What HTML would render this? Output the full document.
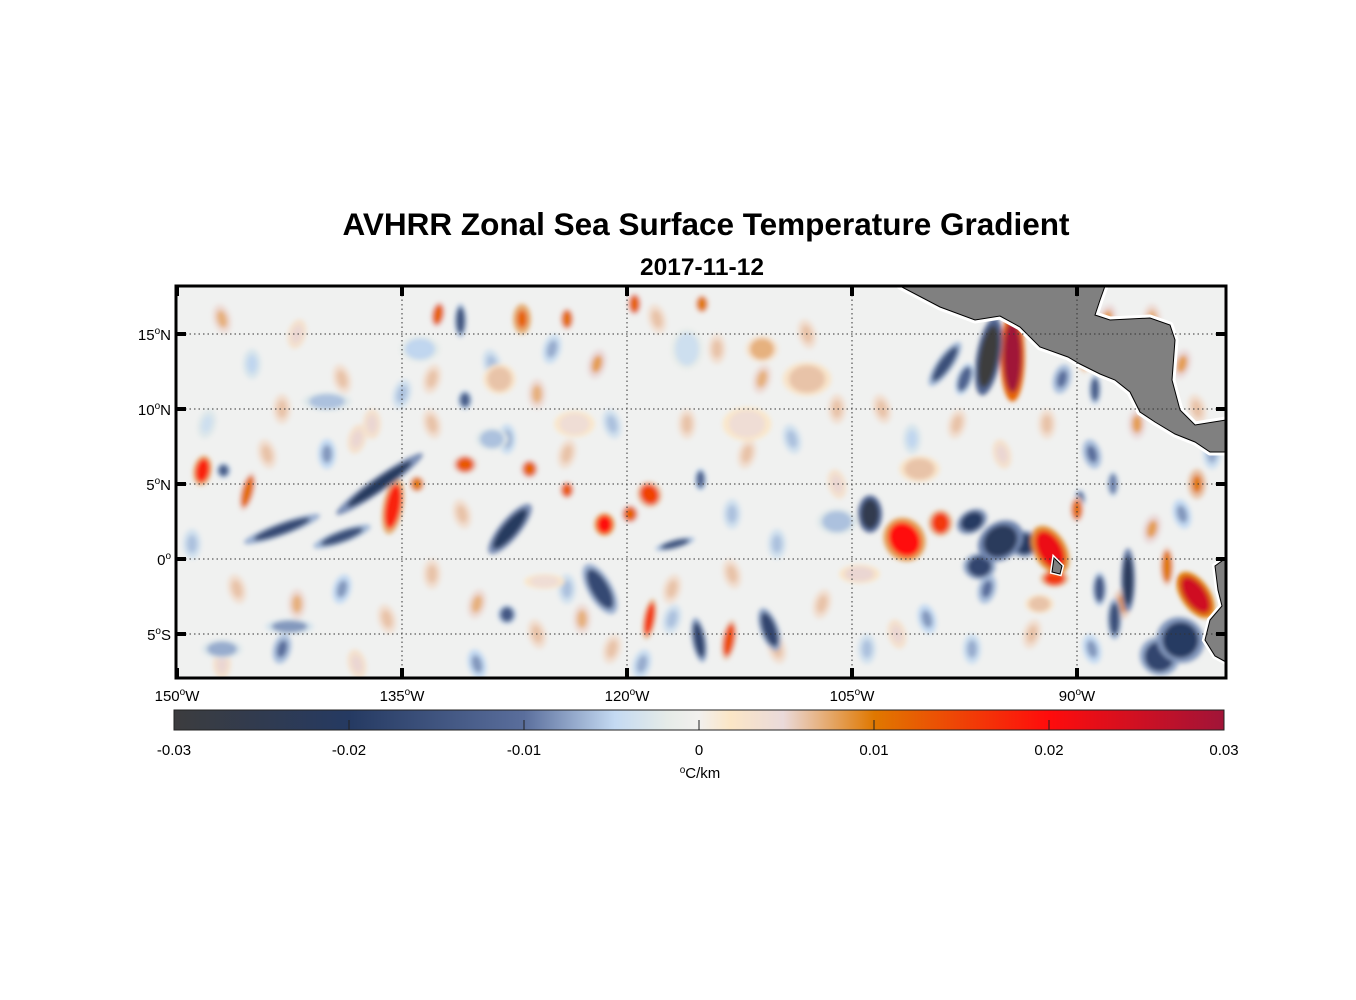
<!DOCTYPE html>
<html><head><meta charset="utf-8"><style>
body{margin:0;background:#fff;width:1356px;height:1000px;overflow:hidden;font-family:"Liberation Sans",Arial,sans-serif}
svg{position:absolute;left:0;top:0}
</style></head><body>
<svg id="c" width="1356" height="1000" viewBox="0 0 1356 1000" font-family="Liberation Sans, Arial, sans-serif">
<defs>
<filter id="bl" x="-50%" y="-50%" width="200%" height="200%"><feGaussianBlur stdDeviation="2.5"/></filter>
<clipPath id="clip"><rect x="176" y="286" width="1050" height="392"/></clipPath>
<linearGradient id="cbg" x1="0" x2="1" y1="0" y2="0">
<stop offset="0" stop-color="#3c3c3e"/><stop offset="0.1667" stop-color="#253a62"/>
<stop offset="0.3333" stop-color="#5a6e9c"/><stop offset="0.42" stop-color="#c4daf2"/>
<stop offset="0.47" stop-color="#e6ece8"/><stop offset="0.5" stop-color="#f2f0ee"/>
<stop offset="0.53" stop-color="#fbe6c6"/><stop offset="0.58" stop-color="#eadada"/>
<stop offset="0.6667" stop-color="#e07800"/><stop offset="0.8333" stop-color="#ff0c0c"/>
<stop offset="1" stop-color="#a01438"/></linearGradient>
</defs>
<text x="706" y="235" text-anchor="middle" font-size="31.5" font-weight="bold">AVHRR Zonal Sea Surface Temperature Gradient</text>
<text x="702" y="275" text-anchor="middle" font-size="24.5" font-weight="bold">2017-11-12</text>
<g clip-path="url(#clip)">
<rect x="176" y="286" width="1050" height="392" fill="#f0f1f0"/>
<g id="blobs" filter="url(#bl)"></g>
<g id="land">
<polygon points="900,286 1105,286 1100,300 1095,315 1110,320 1150,318 1170,325 1175,340 1172,380 1180,410 1195,425 1226,420 1226,452 1210,452 1195,442 1175,434 1155,422 1140,412 1130,392 1115,380 1100,374 1080,364 1068,357 1040,347 1020,327 1000,316 975,320 940,307" fill="#808080" stroke="#fff" stroke-width="7" stroke-linejoin="round"/>
<polygon points="900,286 1105,286 1100,300 1095,315 1110,320 1150,318 1170,325 1175,340 1172,380 1180,410 1195,425 1226,420 1226,452 1210,452 1195,442 1175,434 1155,422 1140,412 1130,392 1115,380 1100,374 1080,364 1068,357 1040,347 1020,327 1000,316 975,320 940,307" fill="#808080" stroke="#000" stroke-width="1"/>
<polygon points="1226,558 1215,566 1218,590 1222,606 1210,620 1205,640 1215,656 1226,662" fill="#808080" stroke="#fff" stroke-width="6"/>
<polygon points="1226,558 1215,566 1218,590 1222,606 1210,620 1205,640 1215,656 1226,662" fill="#808080" stroke="#000" stroke-width="1"/>
<polygon points="1054,558 1062,566 1060,574 1052,572" fill="#808080" stroke="#fff" stroke-width="4"/>
<polygon points="1054,558 1062,566 1060,574 1052,572" fill="#808080" stroke="#000" stroke-width="1"/>
</g>
<g id="grid"></g>
</g>
<rect x="176" y="286" width="1050" height="392" fill="none" stroke="#000" stroke-width="3"/>
<g id="ticks"></g>
<rect x="174" y="710" width="1050" height="20" fill="url(#cbg)" stroke="#222" stroke-width="1"/>
<g id="cbticks"></g>
<text x="700" y="778" text-anchor="middle" font-size="15"><tspan font-size="10" dy="-5">o</tspan><tspan dy="5">C/km</tspan></text>
</svg>
<script>
const lonTicks=[150,135,120,105,90];
const latTicks=[15,10,5,0,-5];
const cbTicks=[-0.03,-0.02,-0.01,0,0.01,0.02,0.03];
const cbLabels=["-0.03","-0.02","-0.01","0","0.01","0.02","0.03"];
// strong features: lon (W), lat, value, half-extent lon (deg), half-extent lat (deg), rotation
const bLon=[94.3,95.9,98.8,97.5,103.8,101.5,99.1,95.1,96.5,91.8,91.5,86.6,82.1,83.1,84.5,89.8,148.3,146.9,145.3,143,136.5,139,135.6,134,130.8,127.8,126.5,124,121.8,121.5,119.8,118.5,116.8,118.5,115.2,113.2,110.5,131.1,132.6,130.8,124,119.5,115,128,90,88.5,87.5,115.1,88.8,89.5,140,147,128.5,129,108,111,142.5,100.5,106,104.5,92.5,133.8,112,123.5,116,125.5,87.6,84,97,93.5];
const bLat=[13.5,13.5,13,12,3,1.3,2.4,1.2,-0.5,0.6,-1.3,-1.4,-2.4,-5.4,-6.5,4,5.9,5.9,4.5,2,5,1.5,3.5,5,6.3,2,6,4.6,-2,2.3,3,4.3,1,-4,-5.4,-5.4,-4.7,15.9,16.3,10.6,16,17,17,-3.7,3.3,-2,-4,5.3,11.3,13.5,10.5,-6,12,8,12,14,-4.5,6,2.5,-1,-3,14,9,9,14,-1.5,5,-0.5,2.5,1];
const bVal=[0.03,-0.03,-0.016,-0.012,-0.025,0.02,0.016,-0.022,-0.018,0.022,0.016,-0.022,0.025,-0.02,-0.018,-0.011,0.018,-0.013,0.011,-0.017,-0.021,-0.016,0.018,0.01,0.013,-0.021,0.012,0.013,-0.017,0.02,0.012,0.015,-0.015,0.016,-0.018,0.014,-0.018,-0.015,0.012,-0.013,0.011,0.012,0.01,-0.014,0.011,-0.014,-0.016,-0.012,-0.013,0.008,-0.006,-0.007,0.006,-0.006,0.006,0.007,-0.008,0.006,-0.006,0.005,0.006,-0.005,0.004,0.004,-0.004,0.004,-0.009,0.01,-0.02,-0.02];
const bRx=[0.6,0.6,0.4,0.4,0.6,1.0,0.6,1.2,0.8,0.8,0.7,0.35,0.7,1.2,1.0,0.3,0.45,0.35,0.35,2.0,2.6,1.5,0.5,0.4,0.6,0.5,0.45,0.35,0.6,0.5,0.45,0.6,1.0,0.3,0.35,0.35,0.45,0.3,0.35,0.35,0.35,0.35,0.35,0.45,0.35,0.35,0.35,0.3,0.3,0.3,1.2,1.0,0.8,0.8,1.2,0.8,1.2,1.0,1.0,1.0,0.7,1.0,1.2,1.0,0.8,1.0,0.3,0.35,0.8,0.7];
const bRy=[2.4,2.1,1.4,0.9,1.0,1.2,0.7,1.0,0.7,1.4,0.45,1.7,1.4,1.2,1.0,0.5,0.8,0.4,1.1,0.35,0.4,0.35,1.5,0.45,0.5,1.7,0.5,0.45,1.5,0.6,0.5,0.7,0.25,1.1,1.2,1.1,1.2,0.9,0.7,0.5,0.6,0.6,0.5,0.5,0.7,0.9,1.1,0.6,0.8,0.9,0.5,0.5,0.8,0.6,0.9,0.7,0.4,0.7,0.7,0.5,0.5,0.7,0.9,0.7,1.1,0.4,0.7,1.1,0.6,0.7];
const bRot=[0,10,35,20,0,-35,0,-35,0,-30,0,0,-35,30,30,0,10,0,15,-20,-35,-20,10,0,0,40,0,0,-30,0,0,-30,-15,10,-10,10,-20,0,10,0,0,0,0,0,0,0,0,0,0,0,0,0,0,0,0,0,0,0,0,0,0,0,0,0,0,0,0,0,-30,-20];
// faint background texture features: lon (W), lat, value
const fLon=[147,145,142,139,137,148,144,140,138,146,142,139,136,147,143,138,149,133,129,126,122,133,128,124,121,133,130,126,124,121,130,127,125,118,114,111,108,116,112,109,106,117,113,110,107,106,113,119,103,101,98,95,92,91,89,86,83,82,85,87,100,97,93,89,87,85,83,82,96,102,143,135,131,123,117,110,104,88,84,81];
const fLat=[16,13,15,12,9,9,7,7,8,-2,-3,-2,-4,-7,-6,-7,1,12,13,11,13,9,8,7,9,-1,-3,-5,-2,-6,-7,16,14,16,14,12,15,9,7,8,10,-2,-1,1,-3,5,3,-7,10,8,9,7,9,12,7,9,13,10,16,15,-4,-6,-5,-6,-3,2,3,5,-2,-5,10,11,3,-4,-4,-6,-6,16,11,7];
const fVal=[0.007,-0.005,0.005,0.006,0.005,-0.004,0.006,-0.008,0.005,0.006,0.007,-0.008,0.006,0.005,-0.01,0.005,-0.006,0.006,-0.006,0.007,0.008,0.006,-0.007,0.006,-0.006,0.006,0.007,0.006,-0.006,0.006,-0.008,0.012,-0.007,0.006,0.006,0.007,0.006,0.006,0.006,-0.006,0.006,0.006,0.006,-0.006,0.006,0.005,-0.006,-0.007,0.006,-0.005,0.006,0.005,0.006,-0.01,-0.01,0.008,0.008,0.006,0.007,0.005,-0.008,-0.007,0.006,-0.008,0.009,0.008,-0.008,0.01,-0.01,0.005,0.006,-0.006,0.006,0.007,-0.006,0.006,-0.006,0.008,0.009,-0.007];
const NS="http://www.w3.org/2000/svg";
const xS=lon=>177+(150-lon)*15;
const yS=lat=>559-lat*15;
const stops=[[-0.03,[60,60,62]],[-0.02,[37,58,98]],[-0.01,[90,110,156]],[-0.0048,[196,218,242]],[-0.0018,[230,236,232]],[0,[242,240,238]],[0.0018,[251,230,198]],[0.0048,[234,218,218]],[0.01,[224,120,0]],[0.02,[255,12,12]],[0.03,[160,20,56]]];
function cmap(v){v=Math.max(-0.03,Math.min(0.03,v));for(let i=0;i<stops.length-1;i++){const a=stops[i],b=stops[i+1];if(v<=b[0]){const t=(v-a[0])/(b[0]-a[0]);const c=a[1].map((x,k)=>Math.round(x+(b[1][k]-x)*t));return `rgb(${c})`;}}return 'rgb(160,20,56)';}
const bg=document.getElementById('blobs');
function ell(cx,cy,rx,ry,rot,v){
  const e=document.createElementNS(NS,'ellipse');
  
  
  e.setAttribute('cx',cx);e.setAttribute('cy',cy);
  e.setAttribute('rx',rx);e.setAttribute('ry',ry);
  e.setAttribute('transform',`rotate(${rot} ${cx} ${cy})`);
  e.setAttribute('fill',cmap(v));
  bg.appendChild(e);
}
fLon.forEach((lo,i)=>{const cx=xS(lo),cy=yS(fLat[i]);ell(cx,cy,9,15,(i%3-1)*15,fVal[i]*0.6);ell(cx,cy,5,9,(i%3-1)*15,fVal[i]);});
const order=bVal.map((v,i)=>i).sort((a,b)=>Math.abs(bVal[a])-Math.abs(bVal[b]));
for(const i of order){
  const cx=xS(bLon[i]),cy=yS(bLat[i]);
  ell(cx,cy,bRx[i]*15*1.35,bRy[i]*15*1.25,bRot[i],bVal[i]*0.4);
  ell(cx,cy,bRx[i]*15,bRy[i]*15,bRot[i],bVal[i]);
}
const grid=document.getElementById('grid'),tk=document.getElementById('ticks');
function line(p,x1,y1,x2,y2,st,w,dash,name){const l=document.createElementNS(NS,'line');l.setAttribute('x1',x1);l.setAttribute('y1',y1);l.setAttribute('x2',x2);l.setAttribute('y2',y2);l.setAttribute('stroke',st);l.setAttribute('stroke-width',w);if(dash)l.setAttribute('stroke-dasharray',dash);


p.appendChild(l);}
function text(p,x,y,main,sup,anchor,name,fs){const t=document.createElementNS(NS,'text');t.setAttribute('x',x);t.setAttribute('y',y);t.setAttribute('text-anchor',anchor);t.setAttribute('font-size',fs);


if(sup){t.innerHTML=`${main[0]}<tspan font-size="10" dy="-6">o</tspan><tspan dy="6">${main[1]}</tspan>`;}else t.textContent=main;p.appendChild(t);}
lonTicks.forEach(l=>{const x=xS(l);if(l!==150)line(grid,x,286,x,678,'#333',1,'1.5,3','lon-gridline');
 line(tk,x,286,x,296,'#000',4,null,'lon-tick-top');line(tk,x,668,x,678,'#000',4,null,'lon-tick-bottom');
 text(tk,x,701,[String(l),'W'],true,'middle','lon-tick-label',15);});
latTicks.forEach(l=>{const y=yS(l);line(grid,176,y,1226,y,'#333',1,'1.5,3','lat-gridline');
 line(tk,176,y,186,y,'#000',4,null,'lat-tick-left');line(tk,1216,y,1226,y,'#000',4,null,'lat-tick-right');
 text(tk,171,y+6,[l===0?'0':String(Math.abs(l)),l>0?'N':(l<0?'S':'')],true,'end','lat-tick-label',15);});
const cb=document.getElementById('cbticks');
cbTicks.forEach((v,i)=>{const x=174+(v+0.03)/0.06*1050;if(i>0&&i<cbTicks.length-1)line(cb,x,720,x,730,'#222',1,null,'colorbar-tick');
 text(cb,x,755,cbLabels[i],false,'middle','colorbar-tick-label',15);});
</script>
</body></html>
